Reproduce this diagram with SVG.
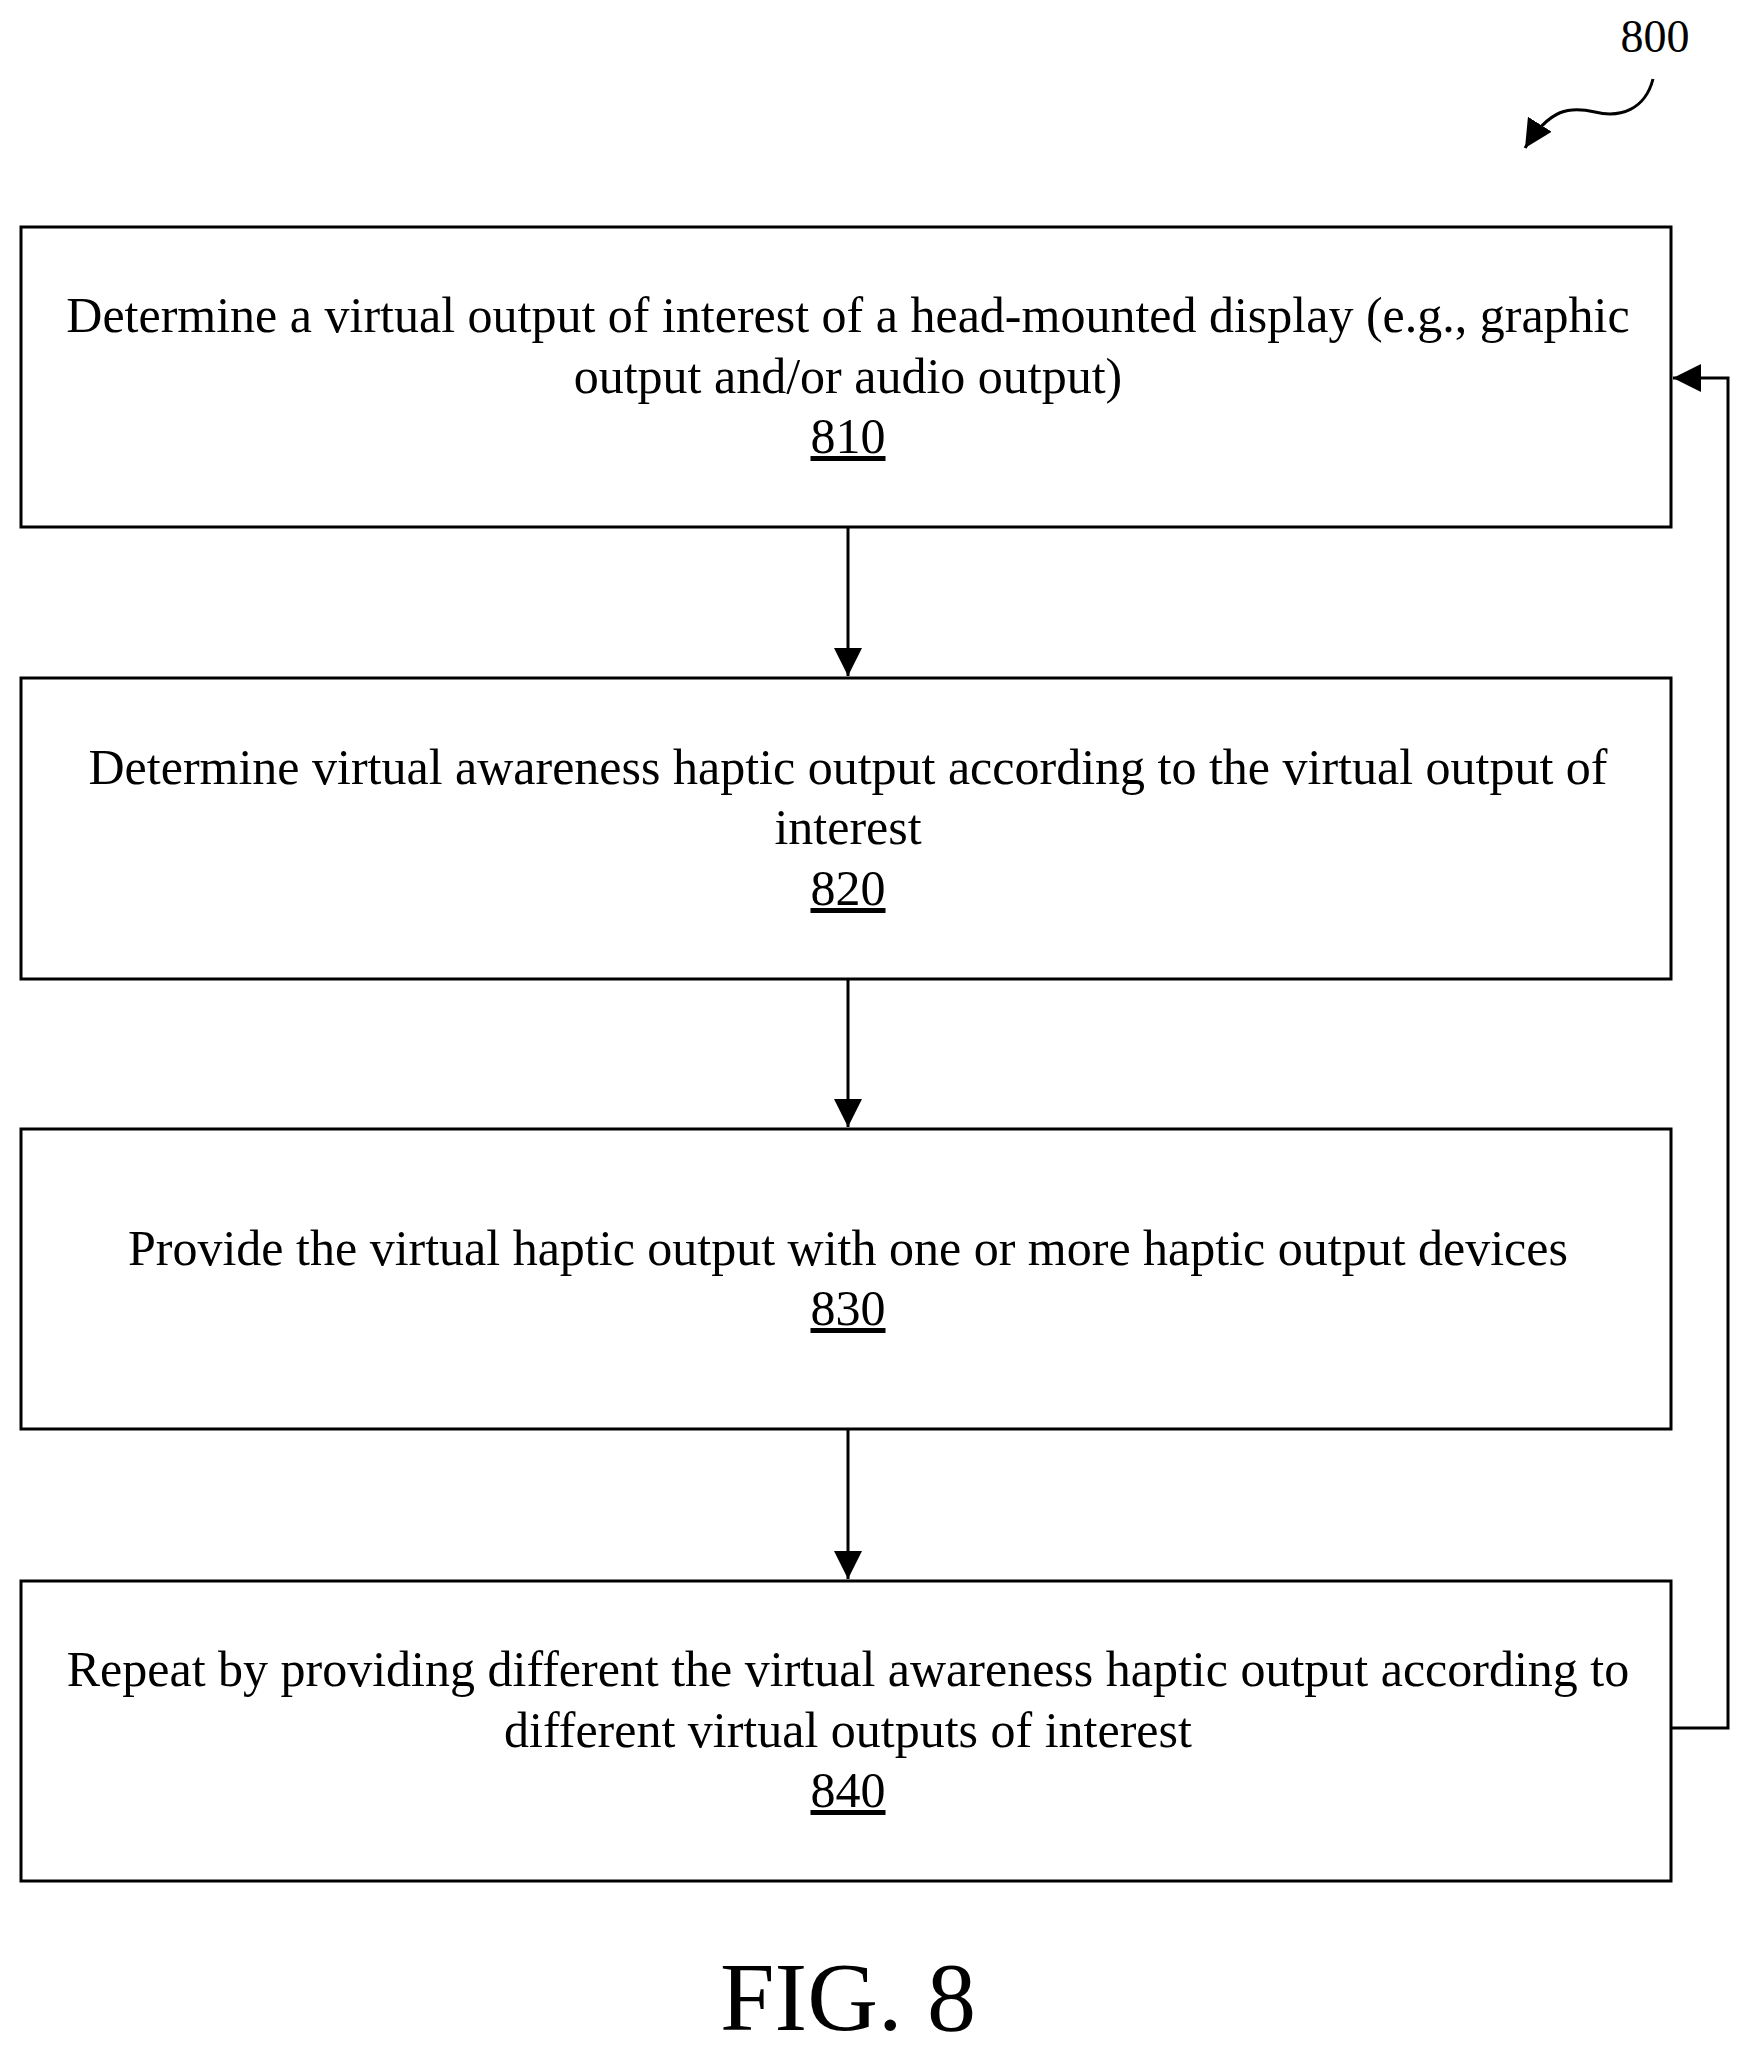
<svg xmlns="http://www.w3.org/2000/svg" width="1751" height="2059" viewBox="0 0 1751 2059">
<defs>
<style>
.box{fill:#fff;stroke:#000;stroke-width:3}
.t{font-family:"Liberation Serif",serif;font-size:50px;text-anchor:middle;fill:#000}
.c{stroke:#000;stroke-width:3;fill:none}
</style>
<marker id="ab" markerWidth="28" markerHeight="40" refX="28" refY="14" orient="auto" markerUnits="userSpaceOnUse" viewBox="0 0 28 28"><path d="M0,0 L28,14 L0,28 Z" fill="#000"/></marker>
</defs>
<rect width="1751" height="2059" fill="#fff"/>
<g id="n810"><rect class="box" x="21" y="227" width="1650" height="300"/>
<text class="t" x="848" y="332">Determine a virtual output of interest of a head-mounted display (e.g., graphic</text>
<text class="t" x="848" y="393">output and/or audio output)</text>
<text class="t" x="848" y="453" text-decoration="underline">810</text></g>
<g id="n820"><rect class="box" x="21" y="678" width="1650" height="301"/>
<text class="t" x="848" y="784">Determine virtual awareness haptic output according to the virtual output of</text>
<text class="t" x="848" y="844">interest</text>
<text class="t" x="848" y="905" text-decoration="underline">820</text></g>
<g id="n830"><rect class="box" x="21" y="1129" width="1650" height="300"/>
<text class="t" x="848" y="1265">Provide the virtual haptic output with one or more haptic output devices</text>
<text class="t" x="848" y="1325" text-decoration="underline">830</text></g>
<g id="n840"><rect class="box" x="21" y="1581" width="1650" height="300"/>
<text class="t" x="848" y="1686">Repeat by providing different the virtual awareness haptic output according to</text>
<text class="t" x="848" y="1747">different virtual outputs of interest</text>
<text class="t" x="848" y="1807" text-decoration="underline">840</text></g>
<g id="connectors">
<path class="c" d="M848,527 V676" marker-end="url(#ab)"/>
<path class="c" d="M848,979 V1127" marker-end="url(#ab)"/>
<path class="c" d="M848,1429 V1579" marker-end="url(#ab)"/>
<path class="c" d="M1671,1728 H1728 V378 H1673" marker-end="url(#ab)"/>
<path class="c" d="M1653,79 C1645,110 1620,118 1595,112 C1570,106 1550,108 1525,148" marker-end="url(#ab)"/>
</g>
<text class="t" x="1655" y="52" style="font-size:46px">800</text>
<text class="t" x="848" y="2030" style="font-size:98px">FIG. 8</text>
</svg>
